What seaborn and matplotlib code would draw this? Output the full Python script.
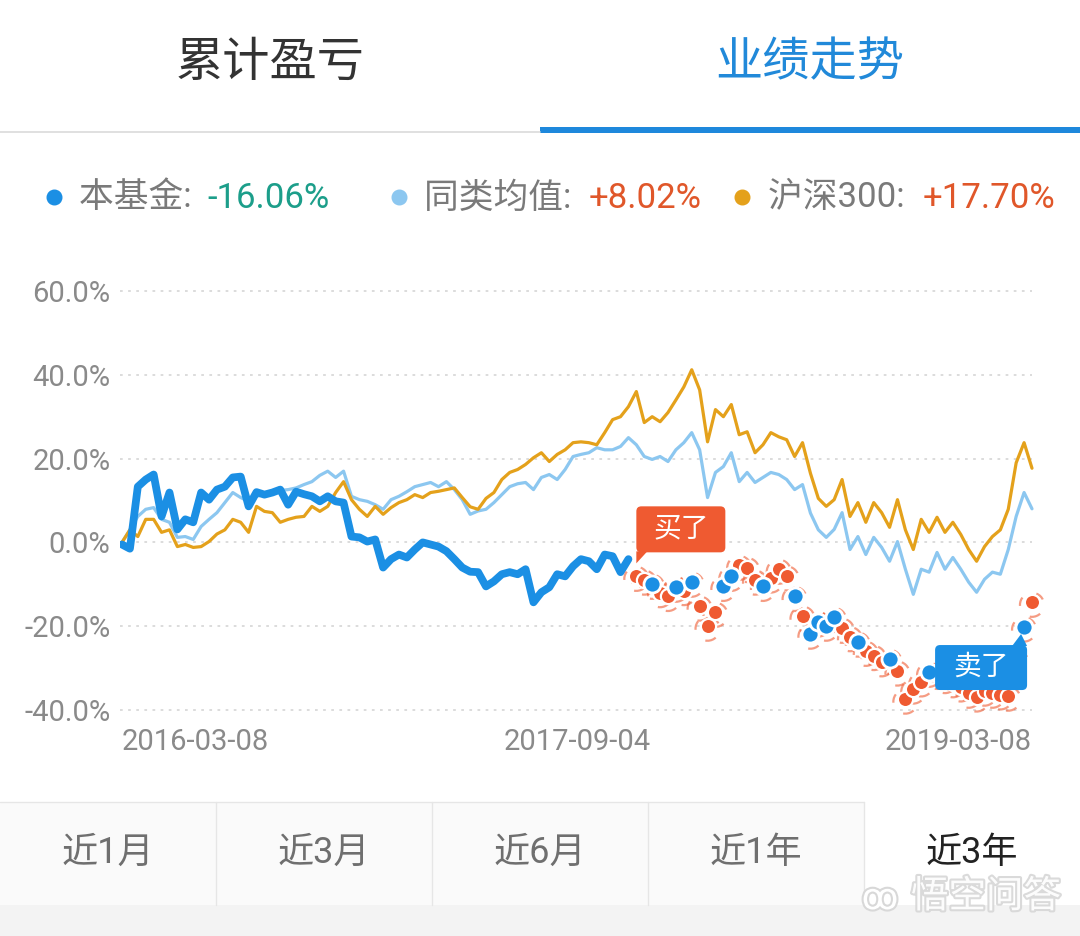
import numpy as np
import pandas as pd
import matplotlib
matplotlib.use("Agg")
import matplotlib.pyplot as plt
import seaborn as sns
from matplotlib.patches import FancyBboxPatch, Polygon, Rectangle
from matplotlib.lines import Line2D
from matplotlib.transforms import IdentityTransform
import matplotlib.patheffects as pe

# ---------------- data ----------------
header_tabs = ["累计盈亏", "业绩走势"]
legend_names = ["本基金: ", "同类均值: ", "沪深300: "]
legend_values = ["-16.06%", "+8.02%", "+17.70%"]
period_tabs = ["近1月", "近3月", "近6月", "近1年", "近3年"]
date_labels = ["2016-03-08", "2017-09-04", "2019-03-08"]
y_ticks = [-40, -20, 0, 20, 40, 60]
buy_label = "买了"
sell_label = "卖了"
watermark = "悟空问答"

# 沪深300 (cumulative %, roughly weekly samples)
hs300 = [0, 3, 1.4, 5.5, 5.5, 2.4, 3, -1, -0.5, -1.2,
         -1, 0.2, 2, 3, 5.5, 4.8, 2.4, 8.6, 7.4, 7.1,
         4.8, 5.5, 6, 6.2, 8.6, 7.4, 8.6, 11.9, 14.5, 10.2,
         7.9, 6.2, 8.6, 6.7, 8.3, 9.5, 10.2, 11.4, 10.7, 11.9,
         12.2, 12.6, 13, 10.7, 8.5, 7.9, 10.5, 11.9, 15, 16.7,
         17.4, 18.6, 20.2, 21.4, 19.3, 21, 22.1, 23.8, 24, 23.8,
         23.3, 26.2, 29.3, 30, 32.4, 36, 28.6, 30, 28.8, 31,
         34, 37.1, 41.2, 36.4, 24, 31.7, 30, 32.9, 25.7, 26.4,
         21.4, 23.3, 26.2, 25.2, 24.5, 20.5, 23.8, 16.5, 10.5, 8.6,
         10.2, 15, 6.2, 9.5, 4.8, 9.5, 7.1, 3.6, 10.2, 3,
         -1.7, 5.5, 2.4, 6, 2.4, 4.8, 1.9, -1.7, -4.5, -1,
         1.4, 3, 7.9, 19, 23.8, 17.7]

# 同类均值
peer_avg = [0, 3, 6.2, 7.9, 8.3, 5.5, 4.8, 1.2, 1.4, 0.7,
            3.8, 5.5, 7.1, 9.5, 11.9, 10.7, 9.8, 11, 11.4, 11.9,
            12.4, 12.6, 13, 13.8, 14.5, 16, 17, 15.5, 17, 11,
            10.2, 9.8, 9, 7.9, 10.2, 11, 12.1, 13.3, 13.8, 14.3,
            13.3, 14.5, 12.6, 10.2, 6.7, 7.5, 7.9, 9.5, 11.4, 13.3,
            14, 14.3, 12.6, 15.5, 16.2, 15, 17.4, 20.5, 21, 21.4,
            22.6, 22.1, 22.1, 22.9, 25, 23.3, 20.5, 19.8, 20.5, 19.3,
            22.1, 23.8, 26.2, 22.1, 10.7, 16.7, 18.1, 21.4, 14.5, 16.7,
            14.3, 15.5, 16.7, 16.2, 15, 12.6, 13.8, 7, 3, 1.2,
            3.1, 7.1, -1.7, 1.4, -2.9, 1.2, -1.2, -4.5, 0.2, -6.4,
            -12.4, -6.4, -7.1, -2.4, -6.4, -3.6, -6.4, -9.5, -11.9, -8.8,
            -7.1, -7.6, -1.7, 6.2, 11.9, 8.02]

# 本基金 before the buy (solid line)
fund_before = [-0.5, -1.5, 13.3, 15, 16.2, 6.2, 11.9, 3.1, 5.5, 4.8,
               11.9, 10.2, 12.6, 13.3, 15.5, 15.7, 8.6, 12, 11.4, 11.9,
               12.6, 9, 12.1, 11.5, 11, 9.8, 11, 9.8, 9.5, 1.4,
               1.2, 0.2, 0.7, -6, -4, -2.9, -3.6, -1.7, 0, -0.5,
               -1, -2.1, -4, -6, -7, -7.1, -10.5, -9.3, -7.6, -7.1,
               -7.6, -6.4, -14.3, -11.9, -10.7, -7.6, -8.1, -5.7, -4, -4.5,
               -6.4, -2.9, -3.3, -7.1, -4]

# 本基金 after the buy (dotted trail)
fund_after = [-8.1, -9, -10, -12, -12.9, -10.7, -11.5, -9.5, -15.2, -20,
              -16.7, -10.5, -8.1, -5.5, -6, -9, -10.5, -8.5, -6.4, -8,
              -12.9, -17.6, -21.9, -19, -20, -17.9, -20.5, -22.5, -23.8, -26,
              -27, -28.5, -27.9, -30.7, -37.4, -35, -33.3, -31, -31.5, -32.5,
              -33.5, -34.5, -36, -36.9, -35.5, -36, -36.4, -36.7, -28, -20.2,
              -14.3]

# positions in the trail where the blue holding dot shows
blue_dot_idx = [67, 70, 72, 76, 77, 81, 85, 87, 88, 89, 90, 93, 97, 102, 114]

# ---------------- colours ----------------
C_FUND = "#1b8fe4"
C_PEER = "#8cc7f0"
C_HS = "#e4a11b"
C_RED = "#ef5a31"
C_GRAY = "#8a8a8a"
C_TEAL = "#1c9e8a"

W, H = 1080, 936
sns.set_theme(style="white")
plt.rcParams["font.family"] = ["Roboto", "Noto Sans CJK SC", "DejaVu Sans"]
plt.rcParams["axes.unicode_minus"] = False

fig = plt.figure(figsize=(W / 100, H / 100), dpi=100)
fig.patch.set_facecolor("white")


def fx(x):
    return x / W


def fy(y):
    return 1 - y / H


# ---------------- header tabs ----------------
fig.text(fx(270), fy(63), header_tabs[0], fontsize=34, color="#333333",
         ha="center", va="center")
fig.text(fx(810), fy(63), header_tabs[1], fontsize=34, color="#2189d9",
         ha="center", va="center")
fig.add_artist(Line2D([0, fx(540)], [fy(131.5), fy(131.5)], color="#dadada", lw=1.2))
fig.add_artist(Rectangle((fx(540), fy(133)), fx(540), 6 / H, color="#1e88dc",
                         transform=fig.transFigure, lw=0))

# ---------------- legend row ----------------
leg_colors = [C_FUND, C_PEER, C_HS]
val_colors = [C_TEAL, "#e0572a", "#e0572a"]
dot_x = [54, 399, 742]
name_x = [79, 424, 768]
val_x = [207, 589, 923]
for i in range(3):
    fig.add_artist(Line2D([fx(dot_x[i])], [fy(197)], marker="o", ms=10.5,
                          color=leg_colors[i], lw=0))
    fig.text(fx(name_x[i]), fy(198), legend_names[i], fontsize=25, color="#7a7a7a",
             ha="left", va="center")
    fig.text(fx(val_x[i]), fy(198), legend_values[i], fontsize=25, color=val_colors[i],
             ha="left", va="center")

# ---------------- chart ----------------
N = len(hs300)
idx = np.arange(N)
px_per_idx = (1035 - 122) / (N - 1)
x0 = (120 - 122) / px_per_idx
x1 = (1032 - 122) / px_per_idx
ylo, yhi = -42, 63
ppy = (710 - 291) / 100.0
top_img = 291 - (yhi - 60) * ppy
bot_img = 710 + (-40 - ylo) * ppy
ax = fig.add_axes([fx(120), 1 - bot_img / H, (1032 - 120) / W, (bot_img - top_img) / H])
ax.set_xlim(x0, x1)
ax.set_ylim(ylo, yhi)
ax.set_facecolor("none")
for s in ax.spines.values():
    s.set_visible(False)

df_hs = pd.DataFrame({"i": idx, "v": hs300})
df_peer = pd.DataFrame({"i": idx, "v": peer_avg})
df_fund = pd.DataFrame({"i": idx[:len(fund_before)], "v": fund_before})
after_i = idx[len(fund_before):]
df_after = pd.DataFrame({"i": after_i, "v": fund_after})
df_blue = df_after[df_after["i"].isin(blue_dot_idx)]

sns.lineplot(data=df_peer, x="i", y="v", color=C_PEER, lw=2.3, ax=ax,
             legend=False, zorder=3, clip_on=False)
sns.lineplot(data=df_hs, x="i", y="v", color=C_HS, lw=2.3, ax=ax,
             legend=False, zorder=4, clip_on=False)
sns.lineplot(data=df_fund, x="i", y="v", color=C_FUND, lw=5.6, ax=ax,
             legend=False, zorder=5, solid_joinstyle="round", solid_capstyle="round")

# trail rings + red dots + blue dots
ax.scatter(df_after["i"], df_after["v"] - 0.6, s=300, facecolors="none",
           edgecolors=C_RED, linewidths=1.6, linestyle=(0, (4, 7)), alpha=0.6,
           zorder=6, clip_on=False)
sns.scatterplot(data=df_after, x="i", y="v", color=C_RED, s=120, edgecolor="white",
                linewidth=1.6, ax=ax, legend=False, zorder=7, clip_on=False)
sns.scatterplot(data=df_blue, x="i", y="v", color=C_FUND, s=150, edgecolor="white",
                linewidth=2.0, ax=ax, legend=False, zorder=8, clip_on=False)

# axes styling
ax.set_yticks(y_ticks)
ax.set_yticklabels([f"{t:.1f}%" for t in y_ticks])
ax.set_xticks([0, (N - 1) / 2, N - 1])
ax.set_xticklabels(date_labels)
xl = ax.get_xticklabels()
xl[0].set_ha("left")
xl[2].set_ha("right")
ax.tick_params(axis="both", length=0, labelsize=21, labelcolor=C_GRAY)
ax.tick_params(axis="y", pad=7)
ax.tick_params(axis="x", pad=7)
ax.grid(axis="y", color="#d9d9d9", lw=1.3, linestyle=(0, (1.5, 3)))
ax.grid(axis="x", visible=False)
ax.set_xlabel("")
ax.set_ylabel("")

# ---------------- callouts ----------------
fig.canvas.draw()
T = IdentityTransform()

bx, by = ax.transData.transform((after_i[0], fund_after[0]))
buy_box = FancyBboxPatch((bx, by + 24), 89, 46, boxstyle="round,pad=0,rounding_size=5",
                         fc=C_RED, ec="none", transform=T, zorder=20)
buy_tail = Polygon([(bx, by + 25), (bx + 11, by + 25), (bx, by + 13)], closed=True,
                   fc=C_RED, ec="none", transform=T, zorder=20)
fig.add_artist(buy_box)
fig.add_artist(buy_tail)
fig.text(bx + 44.5, by + 47, buy_label, transform=T, fontsize=20, color="white",
         ha="center", va="center", zorder=21)

sell_i = blue_dot_idx[-1]
sx, sy = ax.transData.transform((sell_i, fund_after[sell_i - after_i[0]]))
sell_box = FancyBboxPatch((sx - 89, sy - 63), 92, 45, boxstyle="round,pad=0,rounding_size=5",
                          fc=C_FUND, ec="none", transform=T, zorder=20)
sell_tail = Polygon([(sx + 3, sy - 19), (sx - 12, sy - 19), (sx - 3, sy - 7)], closed=True,
                    fc=C_FUND, ec="none", transform=T, zorder=20)
fig.add_artist(sell_box)
fig.add_artist(sell_tail)
fig.text(sx - 43, sy - 40, sell_label, transform=T, fontsize=20, color="white",
         ha="center", va="center", zorder=21)

# ---------------- bottom period tabs ----------------
fig.add_artist(Rectangle((0, 0), 1, 31 / H, color="#f3f3f3", lw=0,
                         transform=fig.transFigure, zorder=1))
cell_w = 216
for k, lab in enumerate(period_tabs):
    selected = (k == len(period_tabs) - 1)
    fc = "white" if selected else "#fafafa"
    fig.add_artist(Rectangle((fx(k * cell_w), fy(905)), fx(cell_w), (905 - 802) / H,
                             fc=fc, ec="none", transform=fig.transFigure, zorder=1))
    if k > 0:
        fig.add_artist(Line2D([fx(k * cell_w), fx(k * cell_w)], [fy(802), fy(905)],
                              color="#e6e6e6", lw=1, zorder=2))
    fig.text(fx(k * cell_w + cell_w / 2), fy(853), lab, fontsize=26,
             color="#222222" if selected else "#6f6f6f", ha="center", va="center", zorder=3)
fig.add_artist(Line2D([0, fx(4 * cell_w)], [fy(802), fy(802)], color="#e6e6e6", lw=1, zorder=2))

# watermark
wm = fig.text(fx(986), fy(897), watermark, fontsize=27, color="white", ha="center",
              va="center", zorder=10, alpha=0.95)
wm.set_path_effects([pe.withStroke(linewidth=3, foreground="#d8d8d8")])
fig.text(fx(880), fy(899), "ꝏ", fontsize=26, color="white", ha="center", va="center",
         zorder=10, family=["DejaVu Sans"],
         path_effects=[pe.withStroke(linewidth=3, foreground="#d8d8d8")])

fig.savefig("out.png", dpi=100, facecolor="white")
